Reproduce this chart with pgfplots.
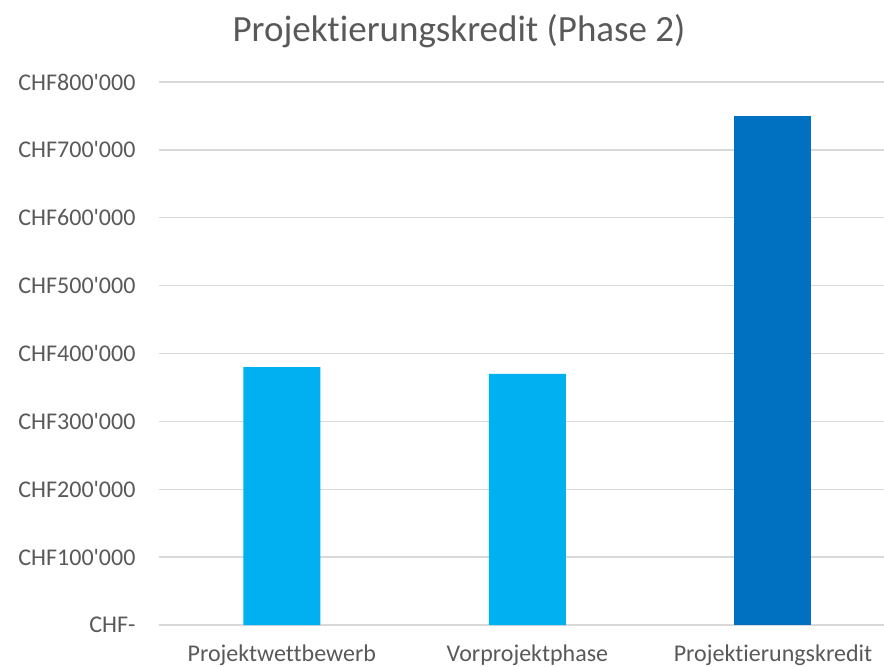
\documentclass[border=0pt]{standalone}
\usepackage{pgfplots}
\pgfplotsset{compat=1.18}
\usepackage{fontspec}
\setmainfont{Carlito}[Ligatures={NoCommon}]
\definecolor{lb}{HTML}{00B0F0}
\definecolor{db}{HTML}{0070C0}
\definecolor{txt}{HTML}{595959}
\definecolor{grd}{HTML}{D9D9D9}
\newcommand{\q}{\textquotesingle}
\begin{document}
\begin{tikzpicture}[x=1pt,y=1pt]
\path[use as bounding box] (0,0) rectangle (884,667);
\begin{axis}[
  at={(159pt,42pt)}, anchor=south west,
  scale only axis, width=725pt, height=543pt,
  xmin=-0.5, xmax=2.452, ymin=0, ymax=800000,
  scaled y ticks=false,
  axis line style={draw=none},
  axis x line*=bottom,
  ymajorgrids, grid style={grd, line width=1.3pt},
  ytick={0,100000,...,800000},
  yticklabels={CHF-,CHF100\q000,CHF200\q000,CHF300\q000,CHF400\q000,CHF500\q000,CHF600\q000,CHF700\q000,CHF800\q000},
  xtick={0,1,2},
  xticklabels={Projektwettbewerb,Vorprojektphase,Projektierungskredit},
  major tick length=0pt,
  tick label style={font=\fontsize{24}{28}\selectfont, text=txt},
  yticklabel style={xshift=-20pt},
  xticklabel style={anchor=base, yshift=-36pt},
]
\addplot[ybar, bar width=77pt, fill=lb, draw=none] coordinates {(0,380000) (1,370000)};
\addplot[ybar, bar width=77pt, fill=db, draw=none] coordinates {(2,750000)};
\end{axis}
\node[text=txt, font=\fontsize{37}{42}\selectfont, anchor=base] at (459,625) {Projektierungskredit (Phase 2)};
\end{tikzpicture}
\end{document}
